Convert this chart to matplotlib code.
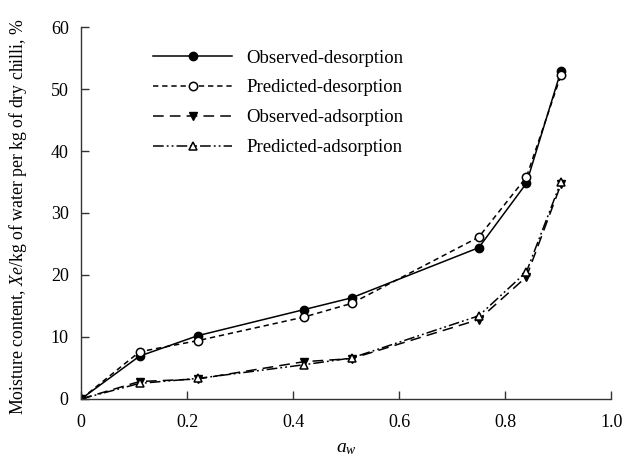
import matplotlib
matplotlib.use("Agg")
import matplotlib.pyplot as plt

# water activity and moisture content
aw = [0.0, 0.11, 0.22, 0.42, 0.51, 0.75, 0.84, 0.905]
obs_des = [0.0, 6.9, 10.2, 14.4, 16.3, 24.4, 34.8, 52.9]
pred_des = [0.0, 7.6, 9.4, 13.2, 15.4, 26.1, 35.8, 52.2]
obs_ads = [0.0, 2.8, 3.2, 6.0, 6.5, 12.8, 19.7, 34.6]
pred_ads = [0.0, 2.5, 3.3, 5.5, 6.6, 13.4, 20.5, 35.0]

xticks = [0, 0.2, 0.4, 0.6, 0.8, 1.0]
xticklabels = ["0", "0.2", "0.4", "0.6", "0.8", "1.0"]

plt.rcParams['font.family'] = ['Liberation Serif', 'DejaVu Serif']
plt.rcParams['mathtext.fontset'] = 'custom'
plt.rcParams['mathtext.rm'] = 'Liberation Serif'
plt.rcParams['mathtext.it'] = 'Liberation Serif:italic'

fig = plt.figure(figsize=(6.25, 4.59), dpi=100)
ax = fig.add_axes([0.130, 0.131, 0.848, 0.810])

k = 'black'
ax.plot(aw, obs_des, color=k, lw=1.1, ls='-', marker='o', ms=6,
        mfc=k, mec=k, label='Observed-desorption')
ax.plot(aw, pred_des, color=k, lw=1.1, ls=(0, (3.5, 2.5)), marker='o', ms=6,
        mfc='white', mec=k, mew=1.1, label='Predicted-desorption')
ax.plot(aw, obs_ads, color=k, lw=1.1, ls=(0, (7, 4)), marker='v', ms=6,
        mfc=k, mec=k, label='Observed-adsorption')
ax.plot(aw, pred_ads, color=k, lw=1.1, ls=(0, (7, 2, 1.2, 2, 1.2, 2)), marker='^',
        ms=6, mfc='white', mec=k, mew=1.1, label='Predicted-adsorption')

ax.set_xlim(0, 1.0)
ax.set_ylim(0, 60)
ax.set_xticks(xticks)
ax.set_xticklabels(xticklabels)
ax.set_yticks(range(0, 61, 10))

for s in ['top', 'right']:
    ax.spines[s].set_visible(False)
for s in ['left', 'bottom']:
    ax.spines[s].set_color('#333333')
    ax.spines[s].set_linewidth(1.0)
ax.tick_params(direction='in', length=6, width=1, colors='#333333',
               labelcolor='black', labelsize=13)
ax.tick_params(axis='x', pad=11)
ax.tick_params(axis='y', pad=9)

ax.set_xlabel('$a_w$', fontsize=14)
ax.xaxis.set_label_coords(0.5, -0.11)
ax.set_ylabel('Moisture content, $Xe$/kg of water per kg of dry chilli, %',
              fontsize=12.8)
ax.yaxis.set_label_coords(-0.098, 0.49)

ax.legend(loc='upper left', bbox_to_anchor=(0.136, 0.94), frameon=False,
          borderaxespad=0, borderpad=0,
          fontsize=13.5, handlelength=4.2, handletextpad=0.75, labelspacing=0.68,
          numpoints=1)

fig.savefig('out.png', dpi=100)
